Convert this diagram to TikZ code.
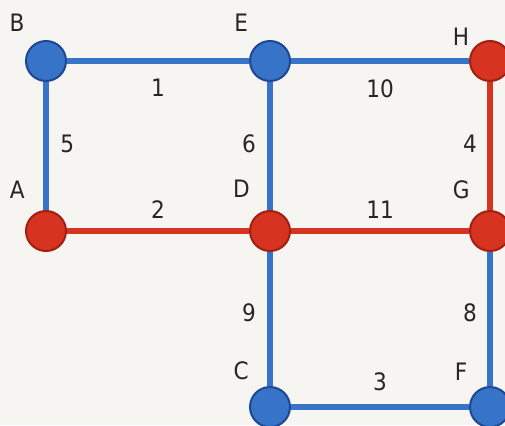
\documentclass[tikz,border=0pt]{standalone}
\usepackage{fontspec}
\setmainfont{DejaVu Sans Condensed}
\usetikzlibrary{positioning}
\definecolor{netblue}{RGB}{55,115,198}
\definecolor{netbluedark}{RGB}{28,72,150}
\definecolor{netred}{RGB}{214,52,32}
\definecolor{netreddark}{RGB}{160,32,20}
\definecolor{paper}{RGB}{247,245,241}

\begin{document}
\begin{tikzpicture}[
    x=1pt, y=-1pt,
    vtx/.style={circle, minimum size=40pt, inner sep=0pt, line width=2pt},
    bluevtx/.style={vtx, draw=netbluedark, fill=netblue},
    redvtx/.style={vtx, draw=netreddark, fill=netred},
    vname/.style={font=\fontsize{24}{28}\selectfont, text=black!85, anchor=center, inner sep=0pt},
    weight/.style={font=\fontsize{24}{28}\selectfont, text=black!85, inner sep=0pt},
    blueedge/.style={draw=netblue, line width=6.5pt},
    rededge/.style={draw=netred, line width=6.5pt}
]
\fill[paper] (0,0) rectangle (505,425);
\useasboundingbox (0,0) rectangle (505,425);
\clip (0,0) rectangle (505,425);

% vertices
\node[bluevtx, label={[vname, label distance=27pt]127:B}] (B) at (46,61) {};
\node[bluevtx, label={[vname, label distance=27pt]127:E}] (E) at (270,61) {};
\node[redvtx, label={[vname, label distance=17pt]140:H}] (H) at (490,61) {};
\node[redvtx, label={[vname, label distance=29pt]125:A}] (A) at (46,231) {};
\node[redvtx, label={[vname, label distance=30pt]124:D}] (D) at (270,231) {};
\node[redvtx, label={[vname, label distance=29pt]125:G}] (G) at (490,231) {};
\node[bluevtx, label={[vname, label distance=25pt]129:C}] (C) at (270,407) {};
\node[bluevtx, label={[vname, label distance=25pt]129:F}] (F) at (490,407) {};

% edges
\draw[blueedge] (B) -- node[weight, below=15pt] {1} (E);
\draw[blueedge] (E) -- node[weight, below=15pt] {10} (H);
\draw[blueedge] (B) -- node[weight, right=11pt, pos=0.48] {5} (A);
\draw[blueedge] (E) -- node[weight, left=11pt, pos=0.48] {6} (D);
\draw[rededge] (H) -- node[weight, left=10pt, pos=0.48] {4} (G);
\draw[rededge] (A) -- node[weight, above=9pt] {2} (D);
\draw[rededge] (D) -- node[weight, above=9pt] {11} (G);
\draw[blueedge] (D) -- node[weight, left=11pt, pos=0.45] {9} (C);
\draw[blueedge] (G) -- node[weight, left=10pt, pos=0.45] {8} (F);
\draw[blueedge] (C) -- node[weight, above=13pt] {3} (F);
\end{tikzpicture}
\end{document}
